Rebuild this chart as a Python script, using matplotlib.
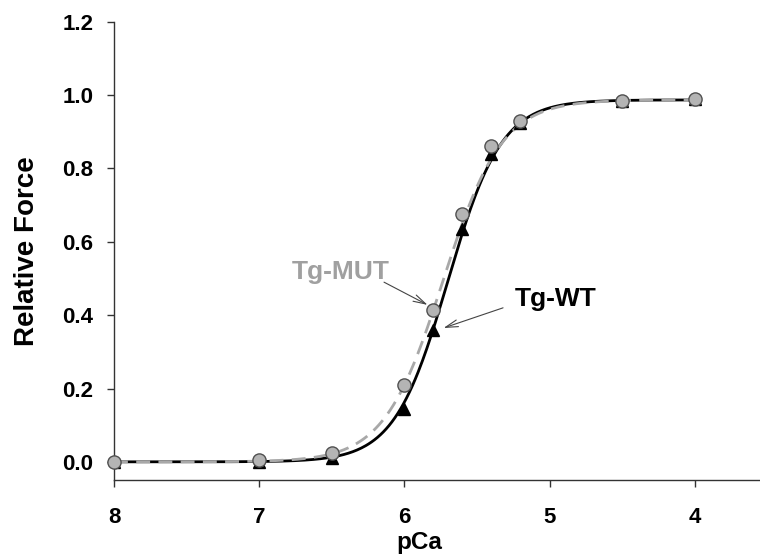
import numpy as np
import matplotlib
matplotlib.use("Agg")
import matplotlib.pyplot as plt

plt.rcParams['font.family'] = ['Liberation Sans', 'DejaVu Sans']
plt.rcParams['font.weight'] = 'bold'

# données
pca_mut = [8.0, 7.0, 6.5, 6.0, 5.8, 5.6, 5.4, 5.2, 4.5, 4.0]
force_mut = [0.0, 0.005, 0.025, 0.21, 0.415, 0.675, 0.86, 0.93, 0.985, 0.99]

pca_wt = [8.0, 7.0, 6.5, 6.0, 5.8, 5.6, 5.4, 5.2, 4.5, 4.0]
force_wt = [0.0, 0.0, 0.01, 0.145, 0.36, 0.635, 0.84, 0.925, 0.985, 0.99]

# paramètres de Hill (ajustement)
fmax = 0.987
pca50_wt, nh_wt = 5.70, 2.35
pca50_mut, nh_mut = 5.734, 2.14


def hill(pca, pca50, nh):
    return fmax / (1 + 10 ** (nh * (pca - pca50)))


x = np.linspace(8, 4, 400)

fig = plt.figure(figsize=(7.6, 5.59), dpi=100)
ax = fig.add_axes([0.15, 0.141, 0.85, 0.82])

ax.plot(x, hill(x, pca50_wt, nh_wt), color='black', lw=2, zorder=2)
ax.plot(x, hill(x, pca50_mut, nh_mut), color='#a8a8a8', lw=2, ls=(0, (5, 3)), zorder=3)

ax.plot(pca_wt, force_wt, ls='none', marker='^', ms=9, color='black', zorder=4)
ax.plot(pca_mut, force_mut, ls='none', marker='o', ms=9.5, mfc='#b4b4b4',
        mec='#505050', mew=1, zorder=5, clip_on=False)

ax.set_xlim(8, 3.55)
ax.set_ylim(-0.05, 1.2)
ax.set_xticks([8, 7, 6, 5, 4])
ax.set_xticklabels(['8', '7', '6', '5', '4'])
ax.set_yticks([0.0, 0.2, 0.4, 0.6, 0.8, 1.0, 1.2])
ax.set_yticklabels(['0.0', '0.2', '0.4', '0.6', '0.8', '1.0', '1.2'])

for s in ['top', 'right']:
    ax.spines[s].set_visible(False)
for s in ['left', 'bottom']:
    ax.spines[s].set_color('#333333')
    ax.spines[s].set_linewidth(1)

ax.tick_params(direction='out', length=5, width=1, color='#333333', labelsize=16)
ax.tick_params(axis='x', pad=14)
ax.tick_params(axis='y', pad=10)
for lab in ax.get_xticklabels() + ax.get_yticklabels():
    lab.set_fontweight('bold')

ax.set_xlabel('pCa', fontsize=17.5, fontweight='bold')
ax.xaxis.set_label_coords(0.473, -0.135)
ax.xaxis.label.set_va('center')
ax.set_ylabel('Relative Force', fontsize=20, fontweight='bold')
ax.yaxis.set_label_coords(-0.1347, 0.5)
ax.yaxis.label.set_ha('center')
ax.yaxis.label.set_va('center')

fleche = dict(arrowstyle='->,head_length=0.9,head_width=0.25', color='#444444',
              lw=0.8, shrinkA=0, shrinkB=0)

ax.text(6.44, 0.518, 'Tg-MUT', fontsize=19, fontweight='bold', color='#a0a0a0',
        ha='center', va='center')
ax.annotate('', xy=(5.84, 0.428), xytext=(6.14, 0.49), arrowprops=fleche)

ax.text(4.96, 0.445, 'Tg-WT', fontsize=19, fontweight='bold', color='black',
        ha='center', va='center')
ax.annotate('', xy=(5.73, 0.365), xytext=(5.32, 0.42), arrowprops=fleche)

plt.savefig("out.png", dpi=100)
plt.close()
